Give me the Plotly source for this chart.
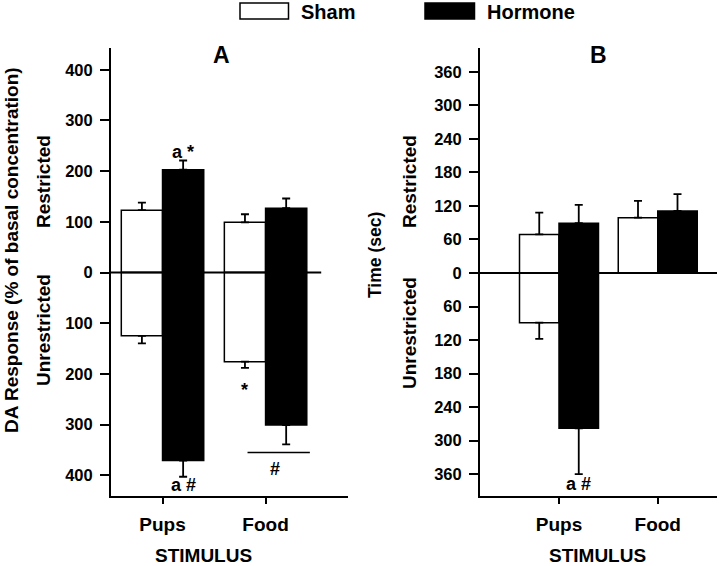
import plotly.graph_objects as go

# ---------------- data ----------------
categories = ["Pups", "Food"]

# Panel A: DA response (% of basal concentration)
a_sham_restricted = [123, 99]
a_sham_restricted_err = [15, 16]
a_hormone_restricted = [203, 127]
a_hormone_restricted_err = [18, 19]
a_sham_unrestricted = [125, 176]
a_sham_unrestricted_err = [15, 12]
a_hormone_unrestricted = [371, 301]
a_hormone_unrestricted_err = [32, 38]

# Panel B: Time (sec)
b_sham_restricted = [69, 99]
b_sham_restricted_err = [39, 30]
b_hormone_restricted = [89, 111]
b_hormone_restricted_err = [33, 30]
b_sham_unrestricted = [89, 0]
b_sham_unrestricted_err = [29, 0]
b_hormone_unrestricted = [278, 0]
b_hormone_unrestricted_err = [82, 0]

a_tickvals = [400, 300, 200, 100, 0, -100, -200, -300, -400]
a_ticktext = ["400", "300", "200", "100", "0", "100", "200", "300", "400"]
b_tickvals = [360, 300, 240, 180, 120, 60, 0, -60, -120, -180, -240, -300, -360]
b_ticktext = ["360", "300", "240", "180", "120", "60", "0", "60", "120", "180", "240", "300", "360"]

# ---------------- helpers ----------------
W, H = 720, 566
FONT = "Liberation Sans, Arial, sans-serif"


def px(x):
    return x / W


def py(y):
    return 1 - y / H


def bar(vals, errs, xa, ya, color, offset, up=True):
    zeros = [0] * len(vals)
    y = vals if up else [-v for v in vals]
    return go.Bar(
        x=categories, y=y, xaxis=xa, yaxis=ya,
        width=0.4, offset=offset,
        marker=dict(color=color, line=dict(color="black", width=1.5)),
        error_y=dict(type="data", symmetric=False,
                     array=errs if up else zeros,
                     arrayminus=zeros if up else errs,
                     color="black", thickness=1.8, width=4),
        showlegend=False, hoverinfo="skip",
    )


fig = go.Figure()
for xa, ya, sr, sre, hr, hre, su, sue, hu, hue in [
    ("x", "y", a_sham_restricted, a_sham_restricted_err, a_hormone_restricted, a_hormone_restricted_err,
     a_sham_unrestricted, a_sham_unrestricted_err, a_hormone_unrestricted, a_hormone_unrestricted_err),
    ("x2", "y2", b_sham_restricted, b_sham_restricted_err, b_hormone_restricted, b_hormone_restricted_err,
     b_sham_unrestricted, b_sham_unrestricted_err, b_hormone_unrestricted, b_hormone_unrestricted_err),
]:
    fig.add_trace(bar(sr, sre, xa, ya, "white", -0.4, True))
    fig.add_trace(bar(su, sue, xa, ya, "white", -0.4, False))
    fig.add_trace(bar(hr, hre, xa, ya, "black", 0.0, True))
    fig.add_trace(bar(hu, hue, xa, ya, "black", 0.0, False))

ydom = [py(496), py(48)]
common_x = dict(type="category", categoryorder="array", categoryarray=categories,
                showline=True, linewidth=2, linecolor="black", ticks="outside",
                ticklen=6, tickwidth=2, tickcolor="black", showgrid=False, zeroline=False,
                tickfont=dict(size=19, family=FONT, color="black", weight="bold"),
                ticklabelstandoff=4)
common_y = dict(showline=True, linewidth=2, linecolor="black", ticks="outside",
                ticklen=9, tickwidth=2, tickcolor="black", showgrid=False, zeroline=False,
                tickfont=dict(size=16.5, family=FONT, color="black", weight="bold"),
                ticklabelstandoff=4)

fig.update_layout(
    width=W, height=H,
    margin=dict(l=0, r=0, t=0, b=0),
    paper_bgcolor="white", plot_bgcolor="white",
    barmode="overlay",
    font=dict(family=FONT, color="black", weight="bold"),
    xaxis=dict(domain=[px(111), px(348)], range=[-0.5, 1.8], anchor="y", **common_x),
    yaxis=dict(domain=ydom, range=[-441, 443], anchor="x",
               tickvals=a_tickvals, ticktext=a_ticktext, **common_y),
    xaxis2=dict(domain=[px(480), px(717)], range=[-0.8, 1.6], anchor="y2", **common_x),
    yaxis2=dict(domain=ydom, range=[-399, 402.5], anchor="x2",
                tickvals=b_tickvals, ticktext=b_ticktext, **common_y),
)

# zero lines (drawn above bars)
fig.add_shape(type="line", xref="x", yref="y", x0=-0.5, x1=1.54, y0=0, y1=0,
              line=dict(color="black", width=2), layer="above")
fig.add_shape(type="line", xref="x2", yref="y2", x0=-0.8, x1=1.6, y0=0, y1=0,
              line=dict(color="black", width=2), layer="above")
# significance line for Food hormone, panel A
fig.add_shape(type="line", xref="x", yref="y", x0=0.825, x1=1.43, y0=-355, y1=-355,
              line=dict(color="black", width=1.5), layer="above")

# legend (drawn)
fig.add_shape(type="rect", xref="paper", yref="paper", x0=px(240), x1=px(288.5), y0=py(19), y1=py(3),
              line=dict(color="black", width=1.5), fillcolor="white")
fig.add_shape(type="rect", xref="paper", yref="paper", x0=px(425), x1=px(474.5), y0=py(19), y1=py(3),
              line=dict(color="black", width=1.5), fillcolor="black")


def ann(text, x, y, size, xref="paper", yref="paper", angle=0, xanchor="center"):
    fig.add_annotation(text=text, x=x, y=y, xref=xref, yref=yref, showarrow=False,
                       textangle=angle, xanchor=xanchor, yanchor="middle",
                       font=dict(size=size, family=FONT, color="black", weight="bold"))


ann("Sham", px(299), py(11.5), 20, xanchor="left")
ann("Hormone", px(485), py(11.5), 20, xanchor="left")

ann("A", px(221), py(55), 23)
ann("B", px(598), py(55), 23)

ann("DA Response (% of basal concentration)", px(11), py(250), 19, angle=-90)
ann("Restricted", px(43), py(182), 19, angle=-90)
ann("Unrestricted", px(43), py(330), 19, angle=-90)
ann("Time (sec)", px(375), py(255), 17.5, angle=-90)
ann("Restricted", px(409), py(182), 19, angle=-90)
ann("Unrestricted", px(409), py(333), 19, angle=-90)

ann("STIMULUS", px(203.5), py(555), 19)
ann("STIMULUS", px(597.5), py(555), 19)

# significance marks
ann("a *", 0.2, 238, 18, xref="x", yref="y")
ann("a #", 0.2, -419, 18, xref="x", yref="y")
ann("*", 0.8, -232, 18, xref="x", yref="y")
ann("#", 1.09, -388, 18, xref="x", yref="y")
ann("a #", 0.2, -377, 18, xref="x2", yref="y2")

# remove the browser's default 8px body margin so the figure sits at the window origin
fig.write_html("out.html",
               config={"displayModeBar": False, "staticPlot": True},
               post_script="document.body.style.margin='0';document.body.style.padding='0';")
